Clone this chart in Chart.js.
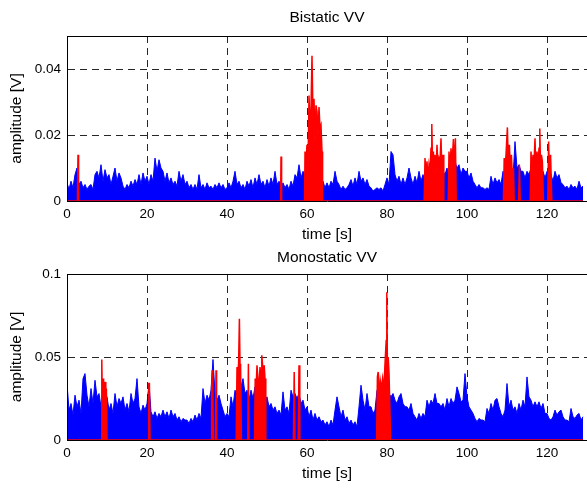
<!DOCTYPE html>
<html><head><meta charset="utf-8">
<script src="https://cdn.jsdelivr.net/npm/chart.js@4.4.1/dist/chart.umd.min.js"></script>
<style>
html,body{margin:0;padding:0;background:#fff;overflow:hidden;width:587px;height:489px;}
canvas{display:block;position:absolute;left:0;}
#c1{top:0;width:587px;height:245px;}
#c2{top:245px;width:587px;height:244px;}
</style></head><body>
<canvas id="c1" width="587" height="245"></canvas>
<canvas id="c2" width="587" height="244"></canvas>
<script>
// ---------------- data (amplitudes in mV) ----------------
const sampleStep = 0.5; // s, spacing of the blue envelope samples
const xTicks = [0, 20, 40, 60, 80, 100, 120];
const yTicksTop = [0, 0.02, 0.04];
const yTicksBottom = [0, 0.05, 0.1];

const bistaticBlue_mV = [
  5.5,3.5,6,4, 8,10,5,6, 4,5,3.5,4.5, 5,3.5,8,9,
  7,11,6,9.5, 7,8,5,7.5, 10,6,8.5,7, 4.5,3.5,5,4,
  6,4.5,6.5,5, 8,5,8.5,6, 7.5,5,8,6, 13,9,12.5,10,
  9,6,8.5,5.5, 7,5,6,4.5, 9,6,8,5, 6,4,5,3.5,
  5,3.5,8,4, 5,3.5,5.5,4, 4.5,3.5,5,4, 5.5,4,5,3.5,
  4,5.5,4,6, 9,5,6,4, 5,3.5,6,4.5, 6.5,4,7,5,
  8,5,6,4, 6.5,4.5,7,5, 9,5,6,4.5, 5.5,4,5,3.5,
  6,4.5,8,7, 11,7,9,8, 4,3,2,3, 4,5,6,5,
  6,4,5.5,4, 6,5,9,6, 5,3.5,4.5,3.5, 4,5,6.5,4.5,
  7,5,9,6, 7,5,6.5,4.5, 4,3,3.5,4, 3.5,4,3,5,
  7,5,15,14, 8,6,7.5,5, 7,5,7,10, 7,5,7.5,5.5,
  9,6,8,6, 9,7,10,8, 9,7,9,6, 9,8,10,7,
  8,9,12,10, 11,8,10,9, 9,7,8.5,6, 5,4,5,4,
  4,3.5,4,3.5, 7.5,5,7,5.5, 6.5,5,9,7, 10,8,9,7,
  18,10,11,9, 9,7,9,8, 10,8,11,9, 10,8,9,7,
  9,10,8,6, 9,7,8,5.5, 5,4,4.5,3.5, 5,4,4.5,3.5,
  6,4,4.5
];

const bistaticRedTime = [
  0, 2.6, 2.75, 2.9,
  53.4, 53.5, 53.65,
  59.4, 59.5, 59.75, 60, 60.25, 60.5, 60.75, 61, 61.25, 61.5, 61.75, 62, 62.25, 62.5, 62.75, 63, 63.25, 63.5, 63.75, 63.9,
  89.3, 89.5, 89.75, 90, 90.25, 90.5, 90.75, 91, 91.2, 91.4, 91.6, 91.8, 92, 92.25, 92.5, 92.75, 93, 93.25, 93.5, 93.75, 94, 94.2,
  95.3, 95.5, 95.75, 96, 96.25, 96.6, 96.85, 97.1, 97.3,
  109.1, 109.3, 109.5, 109.75, 110.1, 110.3, 110.6, 110.9, 111.1, 111.4, 111.6, 111.8,
  112.9, 113.1, 113.3,
  115.8, 116, 116.25, 116.5, 116.75, 117, 117.25, 117.5, 117.75, 118, 118.2, 118.4, 118.6, 118.85, 119.1,
  120.2, 120.4, 120.6, 120.9, 121.2,
  129
];
const bistaticRed_mV = [
  0, 0, 14, 0,
  0, 13.5, 0,
  0, 15, 12, 17, 10, 32, 22, 28, 44, 25, 31, 18, 29, 27, 20, 28.5, 22, 23, 15, 0,
  0, 13, 8, 12, 6, 11, 9, 16, 23.3, 10, 15, 5, 14, 8, 17, 10, 13, 12, 19, 8, 14, 0,
  0, 15, 9, 16, 11, 18.8, 10, 19, 0,
  0, 13, 10, 14, 22.3, 12, 17, 8, 14, 6, 10, 0,
  0, 11, 0,
  0, 15, 9, 14, 11, 19, 8, 15, 10, 16, 22, 9, 14, 12, 0,
  0, 18, 9, 14, 0,
  0
];

const monostaticBlue_mV = [
  34,18,22,15, 27,20,24,16, 37,40,27,20, 31,22,36,26,
  28,20,30,24, 26,18,22,16, 28,20,25,22, 26,18,22,17,
  28,22,25,37, 20,16,21,18, 22,34,17,14, 17,13,16,14,
  18,14,17,13, 18,14,16,12, 14,11,13,12, 12,10,13,11,
  15,12,16,13, 31,22,27,24, 30,48.5,28,24, 27,22,18,14,
  16,14,26,20, 30,28,26,32, 37,28,30,24, 30,25,32,28,
  35,30,28,24, 26,20,22,18, 20,16,18,15, 29,18,20,16,
  30,26,28,25, 28,22,24,18, 20,14,18,12, 16,12,14,11,
  12,9,11,8, 12,9,18,26, 20,14,18,12, 14,10,12,9,
  11,8,20,33, 24,18,28,20, 20,16,18,30, 32,28,34,30,
  35,28,26,28, 24,22,26,28, 22,20,20,18, 22,16,14,12,
  16,13,16,14, 24,20,24,22, 28,22,22,20, 22,18,25,20,
  25,22,24,32, 28,23,24,40, 26,20,18,16, 13,11,13,12,
  12,11,19,16, 22,18,24,25, 20,16,14,18, 34,20,24,18,
  20,16,22,18, 24,20,38,26, 24,20,23,20, 23,19,22,16,
  16,13,12,14, 18,15,17,18, 14,12,12,11, 19,14,13,15,
  16,12,14
];

const monostaticRedTime = [
  0,
  8.55, 8.7, 8.85, 9.0, 9.15, 9.3, 9.5, 9.7, 9.85, 10,
  20.3, 20.45, 20.6, 20.75,
  36.0, 36.15, 36.3, 36.45, 36.6,
  37.1, 37.25, 37.4,
  42.3, 42.5, 42.7, 42.9, 43.1, 43.25, 43.4, 43.6,
  45.2, 45.35, 45.5,
  46.9, 47.05, 47.25, 47.5, 47.75, 48, 48.25, 48.5, 48.7, 48.9, 49.1, 49.3, 49.5, 49.7,
  56.6, 56.8, 57.0,
  57.8, 58.0, 58.2,
  77.4, 77.6, 77.8, 78.0, 78.3, 78.6, 78.9, 79.2, 79.5, 79.8, 79.95, 80.1, 80.3, 80.5, 80.7, 80.9,
  129
];
const monostaticRed_mV = [
  0,
  0, 48.5, 20, 37, 25, 31, 35, 22, 31, 0,
  0, 34, 34, 0,
  0, 30, 42, 30, 0,
  0, 42, 0,
  0, 44, 40, 46, 73, 46, 44, 0,
  0, 46, 0,
  0, 37, 30, 45, 36, 33, 44, 38, 51, 45, 40, 45, 37, 0,
  0, 41, 0,
  0, 45, 0,
  0, 38, 41, 25, 36, 31, 37, 30, 46, 60, 89, 46, 50, 41, 41, 0,
  0
];

// ---------------- chart building ----------------
const FONT = '"Liberation Sans", Arial, Helvetica, sans-serif';
Chart.defaults.font.family = FONT;
Chart.defaults.color = '#000';

const toV = v => v / 1000;
const sampled = vals => vals.map((v, i) => ({x: i * sampleStep, y: toV(v)}));
const paired = (ts, vals) => ts.map((t, i) => ({x: t, y: toV(vals[i])}));

const frameTitle = {
  id: 'frameTitle',
  afterDraw(chart, args, opts) {
    const {ctx, chartArea: a} = chart;
    ctx.save();
    ctx.strokeStyle = '#000';
    ctx.lineWidth = 1;
    ctx.beginPath();
    ctx.moveTo(a.left, Math.round(a.top) + 0.5);
    ctx.lineTo(a.right, Math.round(a.top) + 0.5);
    ctx.stroke();
    ctx.fillStyle = '#000';
    ctx.font = '15.5px ' + FONT;
    ctx.textAlign = 'center';
    ctx.textBaseline = 'middle';
    ctx.fillText(opts.text, (a.left + a.right) / 2, opts.y);
    ctx.restore();
  }
};

function makeChart(id, title, titleY, padTop, xAxisH, xTitlePad, yMax, yTicks, blue, redT, redV) {
  return new Chart(document.getElementById(id), {
    type: 'line',
    data: {
      datasets: [
        {
          label: 'red', data: paired(redT, redV),
          borderColor: '#ff0000', backgroundColor: '#ff0000',
          borderWidth: 1.5, fill: 'origin', pointRadius: 0, tension: 0
        },
        {
          label: 'blue', data: sampled(blue),
          borderColor: '#0000ff', backgroundColor: '#0000ff',
          borderWidth: 1, fill: 'origin', pointRadius: 0, tension: 0
        }
      ]
    },
    options: {
      responsive: false,
      animation: false,
      devicePixelRatio: 1,
      parsing: false,
      layout: {padding: {top: padTop, left: 0, right: 0, bottom: 0}},
      plugins: {
        legend: {display: false},
        tooltip: {enabled: false},
        frameTitle: {text: title, y: titleY}
      },
      scales: {
        x: {
          type: 'linear', min: 0, max: 130,
          afterBuildTicks: s => { s.ticks = xTicks.map(v => ({value: v})); },
          afterFit: s => { s.height = xAxisH; },
          ticks: {autoSkip: false, maxRotation: 0, padding: 5, font: {size: 13.5}, color: '#000',
                  callback: v => String(v)},
          grid: {color: 'rgba(0,0,0,0.85)', lineWidth: 1, drawTicks: false},
          border: {display: true, color: '#000', width: 1, dash: [7, 5]},
          title: {display: true, text: 'time [s]', font: {size: 15.5}, color: '#000',
                  padding: {top: 0, bottom: xTitlePad}}
        },
        y: {
          type: 'linear', min: 0, max: yMax,
          afterBuildTicks: s => { s.ticks = yTicks.map(v => ({value: v})); },
          afterFit: s => { s.width = 67; },
          ticks: {padding: 6, font: {size: 13.5}, color: '#000', callback: v => String(v)},
          grid: {color: 'rgba(0,0,0,0.85)', lineWidth: 1, drawTicks: false},
          border: {display: true, color: '#000', width: 1, dash: [7, 5], z: 1},
          title: {display: true, text: 'amplitude [V]', font: {size: 15.5}, color: '#000',
                  padding: {top: 7, bottom: 0}}
        }
      }
    },
    plugins: [frameTitle]
  });
}

makeChart('c1', 'Bistatic VV', 18, 36, 44, 1, 0.05, yTicksTop,
          bistaticBlue_mV, bistaticRedTime, bistaticRed_mV);
makeChart('c2', 'Monostatic VV', 12.5, 29, 49, 6, 0.1, yTicksBottom,
          monostaticBlue_mV, monostaticRedTime, monostaticRed_mV);
</script>
</body></html>
